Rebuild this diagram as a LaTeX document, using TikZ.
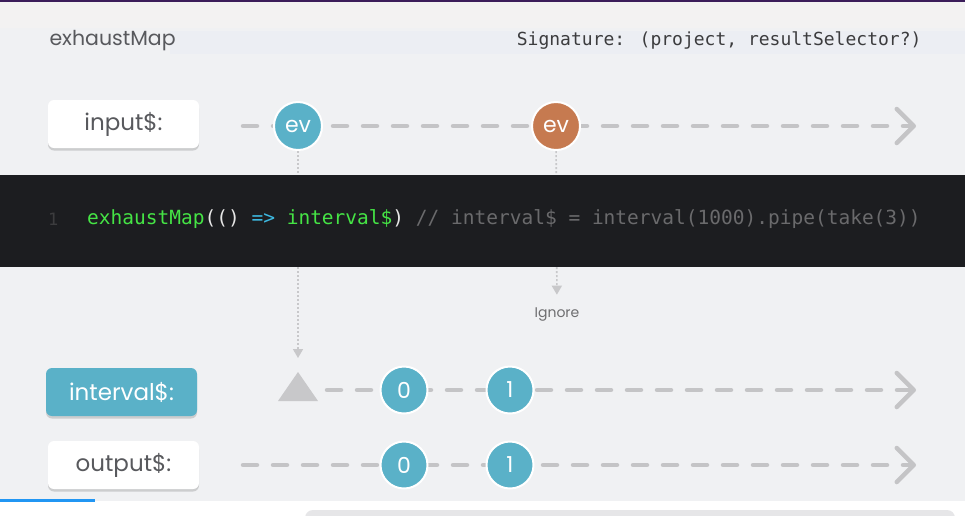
\documentclass[tikz,border=0pt]{standalone}
\usepackage{fontspec}
\setmainfont{Poppins}
\newfontfamily\codefont{DejaVu Sans Mono}
\usepackage{xcolor}
\usetikzlibrary{positioning, arrows.meta, shadows}

\definecolor{pagebg}{HTML}{F0F1F3}
\definecolor{topbg}{HTML}{F3F2F2}
\definecolor{hiband}{HTML}{ECEEF3}
\definecolor{topbar}{HTML}{3B1D5A}
\definecolor{bluebar}{HTML}{2196F3}
\definecolor{shelf}{HTML}{E6E6E8}
\definecolor{evblue}{HTML}{5AB1C8}
\definecolor{evorange}{HTML}{C67A50}
\definecolor{dashgray}{HTML}{C4C4C6}
\definecolor{hintgray}{HTML}{C8C8CA}
\definecolor{labeltext}{HTML}{58595D}
\definecolor{ignoretext}{HTML}{6E6E70}
\definecolor{siggray}{HTML}{3C3C3E}
\definecolor{codebg}{HTML}{1C1D20}
\definecolor{codegreen}{HTML}{45E445}
\definecolor{codecyan}{HTML}{3DB8E0}
\definecolor{codewhite}{HTML}{E6E6E6}
\definecolor{codegray}{HTML}{6A6A6C}
\definecolor{linenum}{HTML}{3C3C3E}

\begin{document}
\begin{tikzpicture}[x=1pt, y=-1pt,
    lbl/.style={rectangle, rounded corners=6pt, minimum width=151pt, minimum height=48pt, fill=white, text=labeltext, font=\fontsize{23}{23}\selectfont, drop shadow={shadow xshift=0pt, shadow yshift=-2.5pt, opacity=0.15, fill=black}},
    ev/.style={circle, draw=white, line width=2pt, minimum size=48pt, inner sep=0pt, text=white, font=\fontsize{22}{22}\selectfont},
    val/.style={ev, minimum size=47pt},
    timeline/.style={draw=dashgray, line width=4.5pt, line cap=round, dash pattern=on 14pt off 16pt, -{Straight Barb[length=17pt, width=34pt, round]}},
    hint/.style={draw=hintgray, line width=1.6pt, dash pattern=on 2pt off 2pt, -{Triangle[length=9pt, width=10pt]}}]

    \useasboundingbox (0,0) rectangle (965,515);

    % Backdrop
    \fill[white] (0,0) rectangle (965,515);
    \fill[pagebg] (0,0) rectangle (965,501);
    \fill[topbg] (0,0) rectangle (965,28);
    \fill[hiband] (170,31) rectangle (965,54);
    \fill[topbar] (0,0) rectangle (965,2);
    \fill[bluebar] (0,499) rectangle (95,502);
    \begin{scope}
        \clip (0,0) rectangle (965,515);
        \fill[shelf, rounded corners=8pt] (305,510) rectangle (955,530);
    \end{scope}

    % Heading
    \node[anchor=west, text=labeltext, font=\fontsize{20.5}{20.5}\selectfont] (title) at (46,41) {exhaustMap};
    \node[anchor=east, text=siggray, font=\codefont\fontsize{18}{18}\selectfont] (sig) at (925,41) {Signature: (project, resultSelector?)};

    % Time lines
    \coordinate (inA) at (243,126);  \coordinate (inZ) at (916,126);
    \coordinate (ivA) at (327,390);  \coordinate (ivZ) at (916,390);
    \coordinate (outA) at (243,465); \coordinate (outZ) at (916,465);
    \path[timeline] (inA) -- (inZ);
    \path[timeline] (ivA) -- (ivZ);
    \path[timeline] (outA) -- (outZ);

    % Stream labels
    \node[lbl] (input) at (123.5,124) {input\$:};
    \node[lbl, fill=evblue, text=white] (interval) at (121.5,392) {interval\$:};
    \node[lbl] (output) at (123.5,465) {output\$:};

    % Events
    \node[ev, fill=evblue] (evA) at (298,126) {ev};
    \node[ev, fill=evorange] (evB) at (556,126) {ev};
    \coordinate (start) at (298,372);
    \fill[hintgray] (start) -- (318,401) -- (278,401) -- cycle;
    \node[val, fill=evblue] (ivZero) at (404,390) {0};
    \node[val, fill=evblue] (ivOne) at (510,390) {1};
    \node[val, fill=evblue] (outZero) at (404,465) {0};
    \node[val, fill=evblue] (outOne) at (510,465) {1};
    \node[text=ignoretext, font=\fontsize{14}{14}\selectfont] (ignore) at (557,315) {Ignore};

    % Hints
    \path[hint, shorten >=14pt] (evA) -- (start);
    \path[hint, shorten >=10pt] (evB) -- (ignore);

    % Code strip
    \fill[codebg] (0,175) rectangle (965,267);
    \node[anchor=east, text=linenum, font=\codefont\fontsize{17}{17}\selectfont] (lineno) at (62,219) {1};
    \node[anchor=west, inner sep=0pt, font=\codefont\fontsize{19.5}{19.5}\selectfont] (code) at (87,219)
        {\textcolor{codegreen}{exhaustMap}\textcolor{codewhite}{(()} \textcolor{codecyan}{=>} \textcolor{codegreen}{interval\$}\textcolor{codewhite}{)} \textcolor{codegray}{// interval\$ = interval(1000).pipe(take(3))}};

\end{tikzpicture}
\end{document}
